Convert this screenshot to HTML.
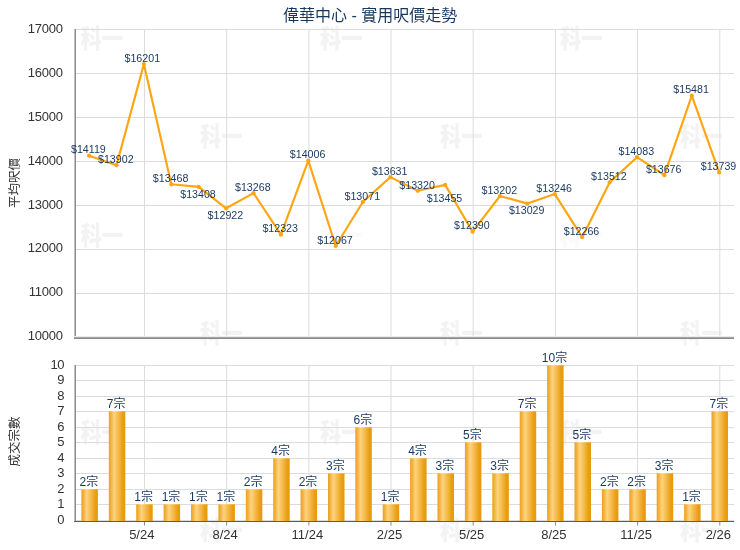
<!DOCTYPE html>
<html><head><meta charset="utf-8"><title>偉華中心 - 實用呎價走勢</title>
<style>
html,body{margin:0;padding:0;background:#fff;}
svg{display:block;font-family:"Liberation Sans","Noto Sans CJK TC",sans-serif;}
.ax{fill:#333;}
.ay{font-size:13px;fill:#333;letter-spacing:-0.28px;}
.dl{font-size:10.67px;fill:#17375e;}
.wm{font-size:26px;font-weight:900;fill:#f3f3f3;font-family:"Noto Sans CJK TC","Noto Sans CJK SC",sans-serif;}
</style></head><body>
<svg width="740" height="550" viewBox="0 0 740 550">
<defs>
<linearGradient id="bg" x1="0" y1="0" x2="1" y2="0">
<stop offset="0" stop-color="#eca020"/>
<stop offset="0.12" stop-color="#f2b03c"/>
<stop offset="0.32" stop-color="#fdd47e"/>
<stop offset="0.6" stop-color="#f4b848"/>
<stop offset="0.85" stop-color="#e99e12"/>
<stop offset="1" stop-color="#e7990a"/>
</linearGradient>
</defs>
<rect width="740" height="550" fill="#fff"/>

<g class="wm">
<text transform="translate(80.5,48.0) scale(0.82,1)">科一</text>
<text transform="translate(320,48.0) scale(0.82,1)">科一</text>
<text transform="translate(560,48.0) scale(0.82,1)">科一</text>
<text transform="translate(200,145.5) scale(0.82,1)">科一</text>
<text transform="translate(440,145.5) scale(0.82,1)">科一</text>
<text transform="translate(680,145.5) scale(0.82,1)">科一</text>
<text transform="translate(80.5,245.0) scale(0.82,1)">科一</text>
<text transform="translate(320,245.0) scale(0.82,1)" fill-opacity="0.45">科一</text>
<text transform="translate(560,245.0) scale(0.82,1)" fill-opacity="0.45">科一</text>
<text transform="translate(200,343.0) scale(0.82,1)">科一</text>
<text transform="translate(440,343.0) scale(0.82,1)">科一</text>
<text transform="translate(680,343.0) scale(0.82,1)">科一</text>
<text transform="translate(80.5,441.5) scale(0.82,1)">科一</text>
<text transform="translate(320,441.5) scale(0.82,1)">科一</text>
<text transform="translate(560,441.5) scale(0.82,1)">科一</text>
<text transform="translate(200,539.5) scale(0.82,1)">科一</text>
<text transform="translate(440,539.5) scale(0.82,1)">科一</text>
<text transform="translate(680,539.5) scale(0.82,1)">科一</text>
</g>
<g stroke="#dcdcdc" stroke-width="1" fill="none">
<line x1="75" y1="29.5" x2="734" y2="29.5"/>
<line x1="75" y1="73.5" x2="734" y2="73.5"/>
<line x1="75" y1="117.5" x2="734" y2="117.5"/>
<line x1="75" y1="161.5" x2="734" y2="161.5"/>
<line x1="75" y1="205.5" x2="734" y2="205.5"/>
<line x1="75" y1="249.5" x2="734" y2="249.5"/>
<line x1="75" y1="293.5" x2="734" y2="293.5"/>
<line x1="75" y1="337.5" x2="734" y2="337.5"/>
<line x1="144.5" y1="29.5" x2="144.5" y2="337.5"/>
<line x1="144.5" y1="365.5" x2="144.5" y2="520.5"/>
<line x1="226.7" y1="29.5" x2="226.7" y2="337.5"/>
<line x1="226.7" y1="365.5" x2="226.7" y2="520.5"/>
<line x1="308.9" y1="29.5" x2="308.9" y2="337.5"/>
<line x1="308.9" y1="365.5" x2="308.9" y2="520.5"/>
<line x1="391.0" y1="29.5" x2="391.0" y2="337.5"/>
<line x1="391.0" y1="365.5" x2="391.0" y2="520.5"/>
<line x1="473.2" y1="29.5" x2="473.2" y2="337.5"/>
<line x1="473.2" y1="365.5" x2="473.2" y2="520.5"/>
<line x1="555.4" y1="29.5" x2="555.4" y2="337.5"/>
<line x1="555.4" y1="365.5" x2="555.4" y2="520.5"/>
<line x1="637.6" y1="29.5" x2="637.6" y2="337.5"/>
<line x1="637.6" y1="365.5" x2="637.6" y2="520.5"/>
<line x1="719.8" y1="29.5" x2="719.8" y2="337.5"/>
<line x1="719.8" y1="365.5" x2="719.8" y2="520.5"/>
<line x1="75" y1="520.5" x2="734" y2="520.5"/>
<line x1="75" y1="504.5" x2="734" y2="504.5"/>
<line x1="75" y1="489.5" x2="734" y2="489.5"/>
<line x1="75" y1="473.5" x2="734" y2="473.5"/>
<line x1="75" y1="458.5" x2="734" y2="458.5"/>
<line x1="75" y1="442.5" x2="734" y2="442.5"/>
<line x1="75" y1="427.5" x2="734" y2="427.5"/>
<line x1="75" y1="411.5" x2="734" y2="411.5"/>
<line x1="75" y1="396.5" x2="734" y2="396.5"/>
<line x1="75" y1="380.5" x2="734" y2="380.5"/>
<line x1="75" y1="365.5" x2="734" y2="365.5"/>
</g>
<g stroke="#8a8a8a" stroke-width="1">
<line x1="144.5" y1="521.5" x2="144.5" y2="525.5"/>
<line x1="226.7" y1="521.5" x2="226.7" y2="525.5"/>
<line x1="308.9" y1="521.5" x2="308.9" y2="525.5"/>
<line x1="391.0" y1="521.5" x2="391.0" y2="525.5"/>
<line x1="473.2" y1="521.5" x2="473.2" y2="525.5"/>
<line x1="555.4" y1="521.5" x2="555.4" y2="525.5"/>
<line x1="637.6" y1="521.5" x2="637.6" y2="525.5"/>
<line x1="719.8" y1="521.5" x2="719.8" y2="525.5"/>
</g>
<g stroke="#9a9a9a" stroke-width="2" fill="none">
<line x1="74.5" y1="29.0" x2="74.5" y2="338.5" stroke="#c4c4c4" stroke-width="1"/>
<line x1="75.5" y1="29.0" x2="75.5" y2="338.5" stroke="#8a8a8a" stroke-width="1"/>
<line x1="74.5" y1="365.0" x2="74.5" y2="521.5" stroke="#c4c4c4" stroke-width="1"/>
<line x1="75.5" y1="365.0" x2="75.5" y2="521.5" stroke="#8a8a8a" stroke-width="1"/>
<line x1="74" y1="336.5" x2="734" y2="336.5" stroke="#ececec" stroke-width="1"/>
<line x1="74" y1="337.5" x2="734" y2="337.5" stroke="#a4a4a4" stroke-width="1"/>
<line x1="74" y1="338.5" x2="734" y2="338.5" stroke="#8c8c8c" stroke-width="1"/>
<line x1="74" y1="521.5" x2="734" y2="521.5" stroke="#5c5c5c" stroke-width="1"/>
</g>
<text x="370.2" y="20.5" text-anchor="middle" font-size="16" font-weight="400" fill="#17375e">偉華中心 - 實用呎價走勢</text>
<g class="ay" text-anchor="end">
<text x="62.6" y="33.4">17000</text>
<text x="62.6" y="77.4">16000</text>
<text x="62.6" y="121.4">15000</text>
<text x="62.6" y="165.4">14000</text>
<text x="62.6" y="208.5">13000</text>
<text x="62.6" y="252.4">12000</text>
<text x="62.6" y="296.4">11000</text>
<text x="62.6" y="340.2">10000</text>
<text x="64.3" y="524.3">0</text>
<text x="64.3" y="508.3">1</text>
<text x="64.3" y="493.3">2</text>
<text x="64.3" y="477.3">3</text>
<text x="64.3" y="462.3">4</text>
<text x="64.3" y="446.3">5</text>
<text x="64.3" y="431.3">6</text>
<text x="64.3" y="415.3">7</text>
<text x="64.3" y="400.3">8</text>
<text x="64.3" y="384.3">9</text>
<text x="64.3" y="369.3">10</text>
</g>
<g class="ax" text-anchor="middle" font-size="13">
<text x="141.8" y="539">5/24</text>
<text x="225.2" y="539">8/24</text>
<text x="307.4" y="539">11/24</text>
<text x="389.5" y="539">2/25</text>
<text x="471.7" y="539">5/25</text>
<text x="553.9" y="539">8/25</text>
<text x="636.1" y="539">11/25</text>
<text x="718.3" y="539">2/26</text>
</g>
<text class="ax" font-size="12.5" transform="translate(18.6,183) rotate(-90)" text-anchor="middle" font-weight="400">平均呎價</text>
<text class="ax" font-size="12.5" transform="translate(18.6,441.6) rotate(-90)" text-anchor="middle" font-weight="400">成交宗數</text>
<rect x="81.4" y="489.0" width="16.5" height="32.0" fill="url(#bg)"/>
<rect x="81.4" y="489.0" width="16.5" height="1" fill="#fff" fill-opacity="0.22"/>
<rect x="108.8" y="411.0" width="16.5" height="110.0" fill="url(#bg)"/>
<rect x="108.8" y="411.0" width="16.5" height="1" fill="#fff" fill-opacity="0.22"/>
<rect x="136.2" y="504.0" width="16.5" height="17.0" fill="url(#bg)"/>
<rect x="136.2" y="504.0" width="16.5" height="1" fill="#fff" fill-opacity="0.22"/>
<rect x="163.6" y="504.0" width="16.5" height="17.0" fill="url(#bg)"/>
<rect x="163.6" y="504.0" width="16.5" height="1" fill="#fff" fill-opacity="0.22"/>
<rect x="191.0" y="504.0" width="16.5" height="17.0" fill="url(#bg)"/>
<rect x="191.0" y="504.0" width="16.5" height="1" fill="#fff" fill-opacity="0.22"/>
<rect x="218.4" y="504.0" width="16.5" height="17.0" fill="url(#bg)"/>
<rect x="218.4" y="504.0" width="16.5" height="1" fill="#fff" fill-opacity="0.22"/>
<rect x="245.8" y="489.0" width="16.5" height="32.0" fill="url(#bg)"/>
<rect x="245.8" y="489.0" width="16.5" height="1" fill="#fff" fill-opacity="0.22"/>
<rect x="273.2" y="458.0" width="16.5" height="63.0" fill="url(#bg)"/>
<rect x="273.2" y="458.0" width="16.5" height="1" fill="#fff" fill-opacity="0.22"/>
<rect x="300.6" y="489.0" width="16.5" height="32.0" fill="url(#bg)"/>
<rect x="300.6" y="489.0" width="16.5" height="1" fill="#fff" fill-opacity="0.22"/>
<rect x="328.0" y="473.0" width="16.5" height="48.0" fill="url(#bg)"/>
<rect x="328.0" y="473.0" width="16.5" height="1" fill="#fff" fill-opacity="0.22"/>
<rect x="355.3" y="427.0" width="16.5" height="94.0" fill="url(#bg)"/>
<rect x="355.3" y="427.0" width="16.5" height="1" fill="#fff" fill-opacity="0.22"/>
<rect x="382.7" y="504.0" width="16.5" height="17.0" fill="url(#bg)"/>
<rect x="382.7" y="504.0" width="16.5" height="1" fill="#fff" fill-opacity="0.22"/>
<rect x="410.1" y="458.0" width="16.5" height="63.0" fill="url(#bg)"/>
<rect x="410.1" y="458.0" width="16.5" height="1" fill="#fff" fill-opacity="0.22"/>
<rect x="437.5" y="473.0" width="16.5" height="48.0" fill="url(#bg)"/>
<rect x="437.5" y="473.0" width="16.5" height="1" fill="#fff" fill-opacity="0.22"/>
<rect x="464.9" y="442.0" width="16.5" height="79.0" fill="url(#bg)"/>
<rect x="464.9" y="442.0" width="16.5" height="1" fill="#fff" fill-opacity="0.22"/>
<rect x="492.3" y="473.0" width="16.5" height="48.0" fill="url(#bg)"/>
<rect x="492.3" y="473.0" width="16.5" height="1" fill="#fff" fill-opacity="0.22"/>
<rect x="519.7" y="411.0" width="16.5" height="110.0" fill="url(#bg)"/>
<rect x="519.7" y="411.0" width="16.5" height="1" fill="#fff" fill-opacity="0.22"/>
<rect x="547.1" y="365.0" width="16.5" height="156.0" fill="url(#bg)"/>
<rect x="547.1" y="365.0" width="16.5" height="1" fill="#fff" fill-opacity="0.22"/>
<rect x="574.5" y="442.0" width="16.5" height="79.0" fill="url(#bg)"/>
<rect x="574.5" y="442.0" width="16.5" height="1" fill="#fff" fill-opacity="0.22"/>
<rect x="601.9" y="489.0" width="16.5" height="32.0" fill="url(#bg)"/>
<rect x="601.9" y="489.0" width="16.5" height="1" fill="#fff" fill-opacity="0.22"/>
<rect x="629.3" y="489.0" width="16.5" height="32.0" fill="url(#bg)"/>
<rect x="629.3" y="489.0" width="16.5" height="1" fill="#fff" fill-opacity="0.22"/>
<rect x="656.7" y="473.0" width="16.5" height="48.0" fill="url(#bg)"/>
<rect x="656.7" y="473.0" width="16.5" height="1" fill="#fff" fill-opacity="0.22"/>
<rect x="684.1" y="504.0" width="16.5" height="17.0" fill="url(#bg)"/>
<rect x="684.1" y="504.0" width="16.5" height="1" fill="#fff" fill-opacity="0.22"/>
<rect x="711.5" y="411.0" width="16.5" height="110.0" fill="url(#bg)"/>
<rect x="711.5" y="411.0" width="16.5" height="1" fill="#fff" fill-opacity="0.22"/>
<polyline points="89.1,155.7 116.5,165.2 143.9,64.1 171.3,184.3 198.7,186.9 226.1,208.3 253.5,193.1 280.9,234.7 308.3,160.6 335.7,246.0 363.0,201.8 390.4,177.1 417.8,190.8 445.2,184.9 472.6,231.7 500.0,196.0 527.4,203.6 554.8,194.1 582.2,237.2 609.6,182.4 637.0,157.2 664.4,175.2 691.8,95.7 719.2,172.4" fill="none" stroke="#fea511" stroke-width="2.15" stroke-linejoin="round" stroke-linecap="round"/>
<circle cx="89.1" cy="155.7" r="2.1" fill="#fea511"/>
<circle cx="116.5" cy="165.2" r="2.1" fill="#fea511"/>
<circle cx="143.9" cy="64.1" r="2.1" fill="#fea511"/>
<circle cx="171.3" cy="184.3" r="2.1" fill="#fea511"/>
<circle cx="198.7" cy="186.9" r="2.1" fill="#fea511"/>
<circle cx="226.1" cy="208.3" r="2.1" fill="#fea511"/>
<circle cx="253.5" cy="193.1" r="2.1" fill="#fea511"/>
<circle cx="280.9" cy="234.7" r="2.1" fill="#fea511"/>
<circle cx="308.3" cy="160.6" r="2.1" fill="#fea511"/>
<circle cx="335.7" cy="246.0" r="2.1" fill="#fea511"/>
<circle cx="363.0" cy="201.8" r="2.1" fill="#fea511"/>
<circle cx="390.4" cy="177.1" r="2.1" fill="#fea511"/>
<circle cx="417.8" cy="190.8" r="2.1" fill="#fea511"/>
<circle cx="445.2" cy="184.9" r="2.1" fill="#fea511"/>
<circle cx="472.6" cy="231.7" r="2.1" fill="#fea511"/>
<circle cx="500.0" cy="196.0" r="2.1" fill="#fea511"/>
<circle cx="527.4" cy="203.6" r="2.1" fill="#fea511"/>
<circle cx="554.8" cy="194.1" r="2.1" fill="#fea511"/>
<circle cx="582.2" cy="237.2" r="2.1" fill="#fea511"/>
<circle cx="609.6" cy="182.4" r="2.1" fill="#fea511"/>
<circle cx="637.0" cy="157.2" r="2.1" fill="#fea511"/>
<circle cx="664.4" cy="175.2" r="2.1" fill="#fea511"/>
<circle cx="691.8" cy="95.7" r="2.1" fill="#fea511"/>
<circle cx="719.2" cy="172.4" r="2.1" fill="#fea511"/>
<g class="dl" text-anchor="middle">
<text x="88.4" y="153.4">$14119</text>
<text x="115.8" y="162.9">$13902</text>
<text x="142.3" y="61.8">$16201</text>
<text x="170.6" y="182.0">$13468</text>
<text x="198.0" y="198.3">$13408</text>
<text x="225.4" y="219.1">$12922</text>
<text x="252.8" y="190.8">$13268</text>
<text x="280.2" y="232.4">$12323</text>
<text x="307.6" y="158.3">$14006</text>
<text x="335.0" y="243.7">$12067</text>
<text x="362.3" y="199.5">$13071</text>
<text x="389.7" y="174.8">$13631</text>
<text x="417.1" y="188.5">$13320</text>
<text x="444.5" y="201.8">$13455</text>
<text x="471.9" y="229.4">$12390</text>
<text x="499.3" y="193.7">$13202</text>
<text x="526.7" y="213.8">$13029</text>
<text x="554.1" y="191.8">$13246</text>
<text x="581.5" y="234.9">$12266</text>
<text x="608.9" y="180.1">$13512</text>
<text x="636.3" y="154.9">$14083</text>
<text x="663.7" y="172.9">$13676</text>
<text x="691.1" y="93.4">$15481</text>
<text x="718.5" y="170.1">$13739</text>
<text x="88.8" y="485.7" font-size="12">2宗</text>
<text x="116.2" y="407.7" font-size="12">7宗</text>
<text x="143.6" y="500.7" font-size="12">1宗</text>
<text x="171.0" y="500.7" font-size="12">1宗</text>
<text x="198.4" y="500.7" font-size="12">1宗</text>
<text x="225.8" y="500.7" font-size="12">1宗</text>
<text x="253.2" y="485.7" font-size="12">2宗</text>
<text x="280.6" y="454.7" font-size="12">4宗</text>
<text x="308.0" y="485.7" font-size="12">2宗</text>
<text x="335.4" y="469.7" font-size="12">3宗</text>
<text x="362.8" y="423.7" font-size="12">6宗</text>
<text x="390.1" y="500.7" font-size="12">1宗</text>
<text x="417.5" y="454.7" font-size="12">4宗</text>
<text x="444.9" y="469.7" font-size="12">3宗</text>
<text x="472.3" y="438.7" font-size="12">5宗</text>
<text x="499.7" y="469.7" font-size="12">3宗</text>
<text x="527.1" y="407.7" font-size="12">7宗</text>
<text x="554.5" y="361.7" font-size="12">10宗</text>
<text x="581.9" y="438.7" font-size="12">5宗</text>
<text x="609.3" y="485.7" font-size="12">2宗</text>
<text x="636.7" y="485.7" font-size="12">2宗</text>
<text x="664.1" y="469.7" font-size="12">3宗</text>
<text x="691.5" y="500.7" font-size="12">1宗</text>
<text x="718.9" y="407.7" font-size="12">7宗</text>
</g>
</svg></body></html>
